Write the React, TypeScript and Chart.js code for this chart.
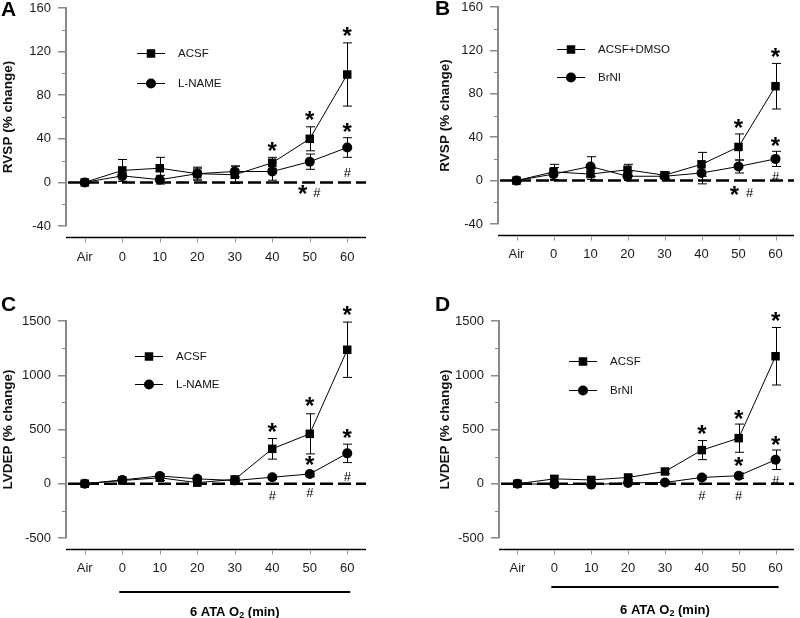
import React, { useEffect, useRef } from 'react';
import { Chart, registerables } from 'chart.js';

Chart.register(...registerables);

// ---------- data ----------
const CATEGORIES = ['Air', '0', '10', '20', '30', '40', '50', '60'];

// Panel A (RVSP, ACSF vs L-NAME)
const A_ACSF = [0, 11, 13, 8, 7, 18, 40, 99];
const A_ACSF_ERR = [1, 10, 10, 6, 8, 5, 11, 29];
const A_LNAME = [0, 6, 2.5, 8, 10, 10, 19, 32];
const A_LNAME_ERR = [1, 5, 4, 5, 5, 8, 7, 9];
const A_STARS: [number, number][] = [[5, 31], [6, 59], [7, 136], [7, 48]];
const A_HASHES: [number, number][] = [[7, 9]];
const A_PAIRS: [number, number][] = [[6, -9]];

// Panel B (RVSP, ACSF+DMSO vs BrNI)
const B_DMSO = [0, 8, 6, 10, 5, 15, 31, 87];
const B_DMSO_ERR = [1, 7, 5, 5, 3, 11, 12, 21];
const B_BRNI = [0, 6, 13, 4, 4, 7, 13, 20];
const B_BRNI_ERR = [1, 6, 9, 4, 3, 10, 6, 7];
const B_STARS: [number, number][] = [[6, 50], [7, 116], [7, 34]];
const B_HASHES: [number, number][] = [[7, 4]];
const B_PAIRS: [number, number][] = [[6, -11]];

// Panel C (LVDEP, ACSF vs L-NAME)
const C_ACSF = [0, 30, 55, 10, 40, 322, 460, 1235];
const C_ACSF_ERR = [10, 20, 25, 20, 20, 95, 185, 255];
const C_LNAME = [0, 35, 72, 45, 30, 60, 90, 280];
const C_LNAME_ERR = [10, 15, 20, 15, 15, 20, 25, 85];
const C_STARS: [number, number][] = [[5, 497], [6, 736], [7, 1573], [6, 193], [7, 442]];
const C_HASHES: [number, number][] = [[5, -101], [6, -74], [7, 74]];

// Panel D (LVDEP, ACSF vs BrNI)
const D_ACSF = [0, 45, 35, 58, 113, 310, 420, 1175];
const D_ACSF_ERR = [10, 25, 20, 20, 20, 88, 130, 265];
const D_BRNI = [0, -5, -8, 8, 12, 58, 74, 221];
const D_BRNI_ERR = [10, 25, 15, 10, 10, 15, 25, 90];
const D_STARS: [number, number][] = [[5, 478], [6, 617], [7, 1518], [6, 184], [7, 377]];
const D_HASHES: [number, number][] = [[5, -101], [6, -101], [7, 37]];

const RVSP_TICKS = { min: -40, max: 160, step: 40, minor: 20 };
const LVDEP_TICKS = { min: -500, max: 1500, step: 500, minor: 250 };

// ---------- layout / style ----------
const FONT = "'Liberation Sans', Arial, Helvetica, sans-serif";
const XH = 40;
const STAR_SIZE = 24;

interface Series { label: string; data: number[]; err: number[]; style: 'rect' | 'circle'; }
interface PanelCfg {
  id: string; letter: string; yTitle: string;
  left: number; top: number; width: number; height: number;
  area: { l: number; t: number; r: number; b: number };
  padLeft: number;
  letterPos: [number, number];
  ticks: { min: number; max: number; step: number; minor: number };
  series: Series[];
  stars: [number, number][]; hashes: [number, number][]; pairs: [number, number][];
  pairDx: [number, number];
  legend: { x: number; y: number; gap: number };
  xPad: number;
  bottom?: { barY: number; labelY: number };
}

const PANELS: PanelCfg[] = [
  {
    id: 'A', letter: 'A', yTitle: 'RVSP (% change)',
    left: 0, top: 0, width: 400, height: 290,
    area: { l: 66, t: 8, r: 366, b: 226 }, padLeft: 0, letterPos: [1, 16],
    ticks: RVSP_TICKS,
    series: [
      { label: 'ACSF', data: A_ACSF, err: A_ACSF_ERR, style: 'rect' },
      { label: 'L-NAME', data: A_LNAME, err: A_LNAME_ERR, style: 'circle' },
    ],
    stars: A_STARS, hashes: A_HASHES, pairs: A_PAIRS, pairDx: [-7, 7],
    legend: { x: 137, y: 53, gap: 30 }, xPad: 24,
  },
  {
    id: 'B', letter: 'B', yTitle: 'RVSP (% change)',
    left: 400, top: 0, width: 400, height: 290,
    area: { l: 98, t: 7, r: 398, b: 224 }, padLeft: 37, letterPos: [35, 15],
    ticks: RVSP_TICKS,
    series: [
      { label: 'ACSF+DMSO', data: B_DMSO, err: B_DMSO_ERR, style: 'rect' },
      { label: 'BrNI', data: B_BRNI, err: B_BRNI_ERR, style: 'circle' },
    ],
    stars: B_STARS, hashes: B_HASHES, pairs: B_PAIRS, pairDx: [-4, 11],
    legend: { x: 157, y: 49, gap: 28 }, xPad: 23,
  },
  {
    id: 'C', letter: 'C', yTitle: 'LVDEP (% change)',
    left: 0, top: 290, width: 400, height: 328,
    area: { l: 66, t: 31, r: 366, b: 248 }, padLeft: 0, letterPos: [1, 21],
    ticks: LVDEP_TICKS,
    series: [
      { label: 'ACSF', data: C_ACSF, err: C_ACSF_ERR, style: 'rect' },
      { label: 'L-NAME', data: C_LNAME, err: C_LNAME_ERR, style: 'circle' },
    ],
    stars: C_STARS, hashes: C_HASHES, pairs: [], pairDx: [0, 0],
    legend: { x: 135, y: 66, gap: 28 }, xPad: 23,
    bottom: { barY: 302, labelY: 321 },
  },
  {
    id: 'D', letter: 'D', yTitle: 'LVDEP (% change)',
    left: 400, top: 290, width: 400, height: 328,
    area: { l: 99, t: 31, r: 399, b: 248 }, padLeft: 37, letterPos: [35, 21],
    ticks: LVDEP_TICKS,
    series: [
      { label: 'ACSF', data: D_ACSF, err: D_ACSF_ERR, style: 'rect' },
      { label: 'BrNI', data: D_BRNI, err: D_BRNI_ERR, style: 'circle' },
    ],
    stars: D_STARS, hashes: D_HASHES, pairs: [], pairDx: [0, 0],
    legend: { x: 169, y: 71, gap: 29 }, xPad: 23,
    bottom: { barY: 297, labelY: 319 },
  },
];

function drawMarker(ctx: CanvasRenderingContext2D, style: string, x: number, y: number) {
  ctx.fillStyle = '#000';
  ctx.beginPath();
  if (style === 'rect') ctx.rect(x - 4.25, y - 4.25, 8.5, 8.5);
  else ctx.arc(x, y, 5, 0, Math.PI * 2);
  ctx.fill();
}

function drawStar(ctx: CanvasRenderingContext2D, x: number, y: number) {
  ctx.font = `bold ${STAR_SIZE}px ${FONT}`;
  ctx.textAlign = 'center';
  ctx.textBaseline = 'alphabetic';
  ctx.fillStyle = '#000';
  ctx.fillText('*', x, y + STAR_SIZE * 0.42);
}
function drawHash(ctx: CanvasRenderingContext2D, x: number, y: number) {
  ctx.font = `13px ${FONT}`;
  ctx.textAlign = 'center';
  ctx.textBaseline = 'alphabetic';
  ctx.fillStyle = '#000';
  ctx.fillText('#', x, y + 4.8);
}

function makePlugin(cfg: PanelCfg) {
  return {
    id: 'panelDecor' + cfg.id,
    beforeDatasetsDraw(chart: any) {
      const { ctx, chartArea: ca } = chart;
      const y = chart.scales.y;
      ctx.save();
      // dashed zero line
      const y0 = y.getPixelForValue(0);
      ctx.strokeStyle = '#000';
      ctx.lineWidth = 2.5;
      ctx.setLineDash([13, 5]);
      ctx.beginPath();
      ctx.moveTo(ca.left + 2, y0);
      ctx.lineTo(ca.right, y0);
      ctx.stroke();
      ctx.setLineDash([]);
      // error bars
      ctx.lineWidth = 1;
      cfg.series.forEach((s, di) => {
        const meta = chart.getDatasetMeta(di);
        s.data.forEach((v, i) => {
          const px = Math.round(meta.data[i].x) + 0.5;
          const yt = y.getPixelForValue(v + s.err[i]);
          const yb = y.getPixelForValue(v - s.err[i]);
          ctx.beginPath();
          ctx.moveTo(px, yt); ctx.lineTo(px, yb);
          ctx.moveTo(px - 4.5, yt); ctx.lineTo(px + 4.5, yt);
          ctx.moveTo(px - 4.5, yb); ctx.lineTo(px + 4.5, yb);
          ctx.stroke();
        });
      });
      ctx.restore();
    },
    afterDraw(chart: any) {
      const { ctx, chartArea: ca } = chart;
      const x = chart.scales.x;
      const y = chart.scales.y;
      ctx.save();
      // minor y ticks
      ctx.strokeStyle = '#888';
      ctx.lineWidth = 1;
      for (let v = cfg.ticks.min; v <= cfg.ticks.max; v += cfg.ticks.minor) {
        if ((v - cfg.ticks.min) % cfg.ticks.step === 0) continue;
        const py = Math.round(y.getPixelForValue(v)) + 0.5;
        ctx.beginPath();
        ctx.moveTo(ca.left - 4, py);
        ctx.lineTo(ca.left, py);
        ctx.stroke();
      }
      // detached x axis line
      const ax = Math.round(ca.bottom + 11) + 0.5;
      ctx.strokeStyle = '#000';
      ctx.lineWidth = 1.6;
      ctx.beginPath();
      ctx.moveTo(ca.left, ax);
      ctx.lineTo(ca.right, ax);
      ctx.stroke();
      ctx.strokeStyle = '#999';
      ctx.lineWidth = 1;
      CATEGORIES.forEach((_, i) => {
        const px = Math.round(x.getPixelForValue(i)) + 0.5;
        ctx.beginPath();
        ctx.moveTo(px, ax + 1);
        ctx.lineTo(px, ax + 5);
        ctx.stroke();
      });
      // panel letter
      ctx.fillStyle = '#000';
      ctx.font = `bold 21px ${FONT}`;
      ctx.textAlign = 'left';
      ctx.textBaseline = 'alphabetic';
      ctx.fillText(cfg.letter, cfg.letterPos[0], cfg.letterPos[1]);
      // legend
      cfg.series.forEach((s, i) => {
        const ly = cfg.legend.y + i * cfg.legend.gap;
        ctx.strokeStyle = '#000';
        ctx.lineWidth = 1;
        ctx.beginPath();
        ctx.moveTo(cfg.legend.x, ly + 0.5);
        ctx.lineTo(cfg.legend.x + 28, ly + 0.5);
        ctx.stroke();
        drawMarker(ctx, s.style, cfg.legend.x + 14, ly + 0.5);
        ctx.fillStyle = '#111';
        ctx.font = `11.5px ${FONT}`;
        ctx.textAlign = 'left';
        ctx.textBaseline = 'middle';
        ctx.fillText(s.label, cfg.legend.x + 41, ly + 1);
      });
      // significance marks
      cfg.stars.forEach(([i, v]) => drawStar(ctx, x.getPixelForValue(i), y.getPixelForValue(v)));
      cfg.hashes.forEach(([i, v]) => drawHash(ctx, x.getPixelForValue(i), y.getPixelForValue(v)));
      cfg.pairs.forEach(([i, v]) => {
        const px = x.getPixelForValue(i);
        const py = y.getPixelForValue(v);
        drawStar(ctx, px + cfg.pairDx[0], py);
        drawHash(ctx, px + cfg.pairDx[1], py);
      });
      // exposure bar and label
      if (cfg.bottom) {
        const x0 = x.getPixelForValue(1) - 3;
        const x1 = x.getPixelForValue(7) + 3;
        ctx.strokeStyle = '#000';
        ctx.lineWidth = 2;
        ctx.beginPath();
        ctx.moveTo(x0, cfg.bottom.barY);
        ctx.lineTo(x1, cfg.bottom.barY);
        ctx.stroke();
        const big = `bold 13px ${FONT}`;
        const small = `bold 9px ${FONT}`;
        const p1 = '6 ATA O';
        const p2 = '2';
        const p3 = ' (min)';
        ctx.font = big; const w1 = ctx.measureText(p1).width; const w3 = ctx.measureText(p3).width;
        ctx.font = small; const w2 = ctx.measureText(p2).width;
        const total = w1 + w2 + w3;
        let sx = (x0 + x1) / 2 - total / 2;
        const by = cfg.bottom.labelY + 5;
        ctx.fillStyle = '#000';
        ctx.textAlign = 'left';
        ctx.textBaseline = 'alphabetic';
        ctx.font = big; ctx.fillText(p1, sx, by); sx += w1;
        ctx.font = small; ctx.fillText(p2, sx, by + 2); sx += w2;
        ctx.font = big; ctx.fillText(p3, sx, by);
      }
      ctx.restore();
    },
  };
}

function Panel({ cfg }: { cfg: PanelCfg }) {
  const ref = useRef<HTMLCanvasElement>(null);
  useEffect(() => {
    const a = cfg.area;
    const chart = new Chart(ref.current as HTMLCanvasElement, {
      type: 'line',
      data: {
        labels: CATEGORIES,
        datasets: cfg.series.map((s) => ({
          label: s.label,
          data: s.data,
          borderColor: '#000',
          backgroundColor: '#000',
          borderWidth: 1,
          pointStyle: s.style,
          pointRadius: s.style === 'rect' ? 6 : 5,
          pointBorderWidth: 0,
          pointBackgroundColor: '#000',
          tension: 0,
          fill: false,
        })),
      },
      options: {
        responsive: false,
        animation: false,
        devicePixelRatio: 1,
        layout: {
          padding: { left: cfg.padLeft, top: a.t, right: cfg.width - a.r, bottom: cfg.height - a.b - XH },
        },
        plugins: { legend: { display: false }, tooltip: { enabled: false } },
        scales: {
          x: {
            type: 'category',
            offset: true,
            grid: { display: false, drawTicks: false },
            border: { display: false },
            ticks: { font: { family: FONT, size: 13 }, color: '#1a1a1a', padding: cfg.xPad, maxRotation: 0, autoSkip: false },
            afterFit: (s: any) => { s.height = XH; s.paddingLeft = 0; s.paddingRight = 0; },
          },
          y: {
            min: cfg.ticks.min,
            max: cfg.ticks.max,
            ticks: {
              stepSize: cfg.ticks.step,
              font: { family: FONT, size: 13 },
              color: '#1a1a1a',
              padding: 7,
              callback: (v: any) => String(v),
            },
            grid: { drawOnChartArea: false, drawTicks: true, tickLength: 8, color: '#888', lineWidth: 1.5 },
            border: { display: true, color: '#888', width: 2 },
            title: { display: true, text: cfg.yTitle, font: { family: FONT, size: 13.5, weight: 'bold' }, color: '#111', padding: 0 },
            afterFit: (s: any) => { s.width = a.l - cfg.padLeft; s.paddingTop = 0; s.paddingBottom = 0; },
          },
        },
      } as any,
      plugins: [makePlugin(cfg)],
    });
    return () => chart.destroy();
  }, [cfg]);
  return (
    <canvas
      ref={ref}
      width={cfg.width}
      height={cfg.height}
      style={{ position: 'absolute', left: cfg.left, top: cfg.top, width: cfg.width, height: cfg.height }}
    />
  );
}

export default function App() {
  return (
    <div style={{ position: 'absolute', left: 0, top: 0, width: 800, height: 618, background: '#fff', overflow: 'hidden' }}>
      {PANELS.map((p) => (
        <Panel key={p.id} cfg={p} />
      ))}
    </div>
  );
}
